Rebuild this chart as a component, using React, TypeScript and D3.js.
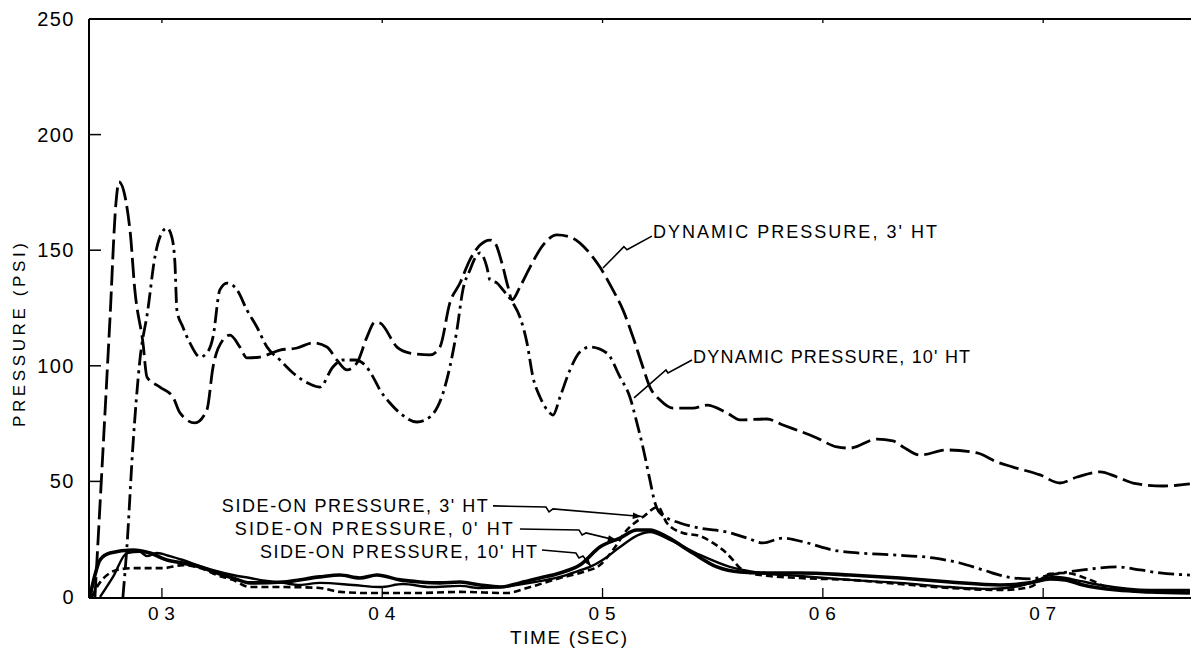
import React from "react";
import * as d3 from "d3";

type P = [number, number];

const yTickValues = [0, 50, 100, 150, 200, 250];
const yTickLabels = ["0", "50", "100", "150", "200", "250"];
const xTickValues = [0.3, 0.4, 0.5, 0.6, 0.7];
const xTickLabels = ["03", "04", "05", "06", "07"];

// [time (sec), pressure (psi)]
const dynamic3ft: P[] = [
  [0.2696, 0], [0.2764, 120], [0.2791, 170], [0.2805, 179.5], [0.2855, 158.7], [0.2877, 132.8],
  [0.2914, 109.9], [0.2932, 95.2], [0.2991, 90.8], [0.305, 86.5], [0.3082, 79.6], [0.315, 75.3],
  [0.3204, 80.9], [0.3232, 99.5], [0.3277, 111.2], [0.3309, 113.3], [0.3354, 108.1], [0.3386, 103.4],
  [0.3445, 103.8], [0.3536, 106.8], [0.3613, 107.7], [0.3685, 109.9], [0.3749, 108.1], [0.3794, 102.5],
  [0.384, 98.2], [0.3885, 101.2], [0.3931, 112.5], [0.3967, 118.9], [0.399, 118.5], [0.4067, 108.1],
  [0.4126, 105.5], [0.4217, 104.7], [0.4262, 108.1], [0.4307, 127.2], [0.4353, 135.8], [0.4398, 145.8],
  [0.4444, 152.2], [0.4489, 154.4], [0.4512, 153.1], [0.4543, 144.5], [0.4571, 134.1], [0.4589, 128.5],
  [0.4625, 134.1], [0.4671, 142.7], [0.473, 152.2], [0.4793, 156.6], [0.4852, 155.7], [0.4929, 150.1],
  [0.4988, 142.7], [0.5047, 132.8], [0.5093, 124.1], [0.5138, 112.5], [0.5183, 99.5], [0.5215, 90.8],
  [0.5261, 85.2], [0.532, 81.7], [0.541, 81.7], [0.5474, 83], [0.5565, 79.6], [0.5624, 76.6],
  [0.5746, 77], [0.5819, 74.4], [0.5973, 68.8], [0.6064, 64.9], [0.6123, 64.4], [0.6246, 68.3],
  [0.6318, 67.5], [0.6364, 64.9], [0.6441, 61.4], [0.6563, 63.6], [0.67, 62.3], [0.679, 58.4],
  [0.6863, 56.2], [0.6986, 52.8], [0.7076, 49.3], [0.7154, 51.9], [0.7258, 54.1], [0.7335, 51.9],
  [0.7408, 49.3], [0.7544, 48], [0.7666, 48.9],
];

const dynamic10ft: P[] = [
  [0.2823, 0], [0.2841, 21.6], [0.2868, 64.9], [0.29, 102.5], [0.2936, 124.1], [0.2968, 147],
  [0.2991, 155.7], [0.3023, 159.6], [0.3045, 155.7], [0.3059, 144.5], [0.3068, 124.1], [0.3095, 116.8],
  [0.3127, 109.9], [0.3173, 103.8], [0.3204, 105.5], [0.3232, 112.5], [0.3263, 132.8], [0.3295, 135.8],
  [0.3341, 132.8], [0.3386, 124.1], [0.3431, 116.8], [0.3477, 108.1], [0.3536, 102.5], [0.3595, 96.9],
  [0.3672, 92.1], [0.3717, 90.8], [0.3776, 99.5], [0.3822, 102.5], [0.3876, 102.5], [0.3922, 100.3],
  [0.3958, 95.2], [0.399, 89.5], [0.4035, 83.9], [0.408, 79.6], [0.4158, 75.7], [0.4217, 77.9],
  [0.4276, 88.2], [0.4307, 99.5], [0.4339, 115.5], [0.4366, 132.8], [0.4398, 141.4], [0.443, 147.9],
  [0.4444, 148.8], [0.4475, 142.7], [0.4489, 137.1], [0.4521, 135.8], [0.4548, 132.8], [0.4593, 127.2],
  [0.4625, 121.1], [0.4657, 109.9], [0.4684, 95.2], [0.4716, 86.5], [0.4761, 79.6], [0.4775, 78.7],
  [0.4807, 86.5], [0.4852, 98.2], [0.4897, 106], [0.4943, 108.1], [0.502, 105.5], [0.5079, 95.2],
  [0.5124, 86.5], [0.5156, 75.3], [0.5183, 64.9], [0.5215, 50.6], [0.5238, 40.7], [0.5261, 36.3],
  [0.5351, 32], [0.5442, 29.8], [0.5565, 28.1], [0.5656, 25.5], [0.5728, 23.4], [0.5819, 25.5],
  [0.5928, 23.4], [0.6046, 20.3], [0.6168, 19], [0.6318, 18.2], [0.65, 16.9], [0.6622, 14.7],
  [0.6727, 11.7], [0.6836, 8.7], [0.694, 7.8], [0.7031, 9.5], [0.7181, 11.7], [0.7335, 13],
  [0.744, 11.7], [0.753, 10.4], [0.7666, 9.5],
];

const sideOn0ft: P[] = [
  [0.2673, 0], [0.2696, 9.5], [0.2719, 16], [0.2764, 19], [0.2868, 20.3], [0.2946, 19], [0.3023, 16],
  [0.3095, 14.7], [0.3173, 13], [0.325, 10.4], [0.3322, 8.2], [0.34, 6.1], [0.3549, 6.5], [0.3717, 8.7],
  [0.3808, 9.5], [0.3899, 8.2], [0.3976, 9.5], [0.408, 7.4], [0.4171, 6.5], [0.4262, 6.1], [0.4353, 6.5],
  [0.4444, 5.2], [0.4534, 4.3], [0.4625, 6.1], [0.4716, 8.2], [0.4807, 10.4], [0.4897, 13.8],
  [0.4988, 21.6], [0.5079, 25.5], [0.5156, 29], [0.5215, 29], [0.5292, 26], [0.541, 19], [0.5519, 13],
  [0.5624, 10.8], [0.5746, 10.4], [0.5896, 10.4], [0.6123, 9.5], [0.635, 8.2], [0.6577, 6.5],
  [0.6804, 5.2], [0.694, 6.1], [0.7031, 7.8], [0.7099, 7.4], [0.7181, 5.2], [0.7335, 3], [0.7485, 2.2],
  [0.7666, 1.7],
];

const sideOn10ft: P[] = [
  [0.2719, 0], [0.2778, 8.7], [0.2841, 19], [0.29, 19.5], [0.2932, 17.7], [0.2977, 19], [0.3036, 17.7],
  [0.3095, 16], [0.3173, 13.4], [0.325, 11.2], [0.3322, 9.5], [0.34, 8.2], [0.3477, 6.9], [0.3549, 6.1],
  [0.3626, 5.2], [0.3717, 6.1], [0.3867, 5.2], [0.399, 4.3], [0.4094, 5.6], [0.4217, 4.3], [0.4353, 4.8],
  [0.4444, 3.9], [0.4534, 4.3], [0.4671, 6.1], [0.4807, 8.7], [0.4897, 11.5], [0.4943, 13], [0.5, 16],
  [0.5079, 21.6], [0.5161, 26.8], [0.5215, 28.1], [0.5306, 24.7], [0.5442, 18.2], [0.5578, 13],
  [0.5715, 10.4], [0.5896, 9.1], [0.6123, 7.4], [0.635, 6.1], [0.6577, 4.3], [0.6759, 3.5],
  [0.6895, 4.8], [0.7008, 8.2], [0.7063, 8.7], [0.7144, 7.4], [0.7258, 5.2], [0.7485, 3], [0.7666, 3],
];

const sideOn3ft: P[] = [
  [0.2682, 0], [0.2705, 4.3], [0.2764, 10.4], [0.2796, 11.7], [0.2868, 12.5], [0.3005, 12.5],
  [0.3095, 13.8], [0.3173, 12.5], [0.325, 9.5], [0.3322, 7.4], [0.34, 4.3], [0.3549, 4.3], [0.3717, 3.9],
  [0.3808, 2.2], [0.3944, 1.7], [0.4139, 1.7], [0.4353, 2.2], [0.4566, 1.7], [0.4657, 3.9], [0.4807, 8.2],
  [0.4911, 10.8], [0.4988, 13.8], [0.5047, 20.3], [0.5111, 29], [0.5183, 34.6], [0.5252, 38.9],
  [0.5292, 32], [0.5365, 27.7], [0.5442, 26.4], [0.5501, 23.4], [0.5547, 20.3], [0.5592, 16],
  [0.5624, 12.5], [0.5715, 9.5], [0.5896, 8.2], [0.6123, 7.4], [0.635, 5.6], [0.6577, 3.9], [0.6804, 3],
  [0.694, 4.3], [0.7031, 10], [0.7099, 10.4], [0.7213, 7.4], [0.7303, 3.9], [0.7485, 2.2], [0.7666, 2.2],
];

const labelTexts = [
  "DYNAMIC PRESSURE, 3' HT",
  "DYNAMIC PRESSURE, 10' HT",
  "SIDE-ON PRESSURE, 3' HT",
  "SIDE-ON PRESSURE, 0' HT",
  "SIDE-ON PRESSURE, 10' HT",
];

export default function App() {
  const W = 1191;
  const H = 653;
  const x = d3.scaleLinear().domain([0.2669, 0.7671]).range([89, 1191]);
  const y = d3.scaleLinear().domain([0, 250]).range([597, 19]);
  const line = d3
    .line<P>()
    .x((d) => x(d[0]))
    .y((d) => y(d[1]))
    .curve(d3.curveMonotoneX);
  const seg = d3
    .line<P>()
    .x((d) => x(d[0]))
    .y((d) => y(d[1]));

  // annotation layout in data coordinates
  const labels = [
    { at: [0.5229, 155.3] as P, len: 284, leader: [[0.5224, 156.1], [0.5111, 150.2], [0.5097, 151.5], [0.5002, 142.3]] as P[], arrow: false },
    { at: [0.5411, 101.2] as P, len: 277, leader: [[0.5406, 102.5], [0.5297, 96.9], [0.5288, 98.2], [0.5143, 86.1]] as P[], arrow: false },
    { at: [0.3272, 36.8] as P, len: 266, leader: [[0.4503, 39.4], [0.4743, 38.9], [0.4757, 36.8], [0.4775, 38.1], [0.5178, 34.8]] as P[], arrow: true },
    { at: [0.3331, 26.8] as P, len: 278, leader: [[0.4625, 29.4], [0.4893, 29.0], [0.4907, 26.8], [0.4925, 27.7], [0.5065, 24.5]] as P[], arrow: true },
    { at: [0.3445, 16.9] as P, len: 277, leader: [[0.4725, 20.3], [0.4879, 19.0], [0.4893, 16.9], [0.4911, 17.7], [0.4948, 13.2]] as P[], arrow: true },
  ];

  const arrowHead = (pts: P[]) => {
    const a = pts[pts.length - 2];
    const b = pts[pts.length - 1];
    const ax = x(a[0]), ay = y(a[1]), bx = x(b[0]), by = y(b[1]);
    const dx = bx - ax, dy = by - ay;
    const L = Math.hypot(dx, dy) || 1;
    const ux = dx / L, uy = dy / L;
    const len = 9, hw = 3.2;
    const cx = bx - ux * len, cy = by - uy * len;
    return `M${bx},${by}L${cx - uy * hw},${cy + ux * hw}L${cx + uy * hw},${cy - ux * hw}Z`;
  };

  const font = "'Liberation Sans', Arial, sans-serif";
  const x0 = x.range()[0];
  const x1 = x.range()[1];

  return (
    <>
      <style>{"body{margin:0;background:#fff}"}</style>
      <svg width={W} height={H} viewBox={`0 0 ${W} ${H}`} style={{ display: "block", background: "#fff" }}>
        {/* frame */}
        <line x1={x0} x2={x0} y1={y(250)} y2={y(0) + 1} stroke="#000" strokeWidth={2} />
        <line x1={x0} x2={x1} y1={y(250)} y2={y(250)} stroke="#000" strokeWidth={2} />
        <line x1={x0} x2={x1} y1={y(0) + 1} y2={y(0) + 1} stroke="#000" strokeWidth={2} />

        {/* y ticks */}
        {yTickValues.map((v, i) => (
          <g key={"y" + v}>
            {v > 0 && v < 250 && (
              <line x1={x0} x2={x0 + 12} y1={y(v)} y2={y(v)} stroke="#000" strokeWidth={1.5} />
            )}
            <text
              x={75}
              y={y(v) + 7}
              textAnchor="end"
              fontFamily={font}
              fontSize={20}
              letterSpacing={1.5}
              fill="#000"
            >
              {yTickLabels[i]}
            </text>
          </g>
        ))}

        {/* x ticks */}
        {xTickValues.map((v, i) => (
          <g key={"x" + v}>
            <line x1={x(v)} x2={x(v)} y1={y(0)} y2={y(0) - 9} stroke="#000" strokeWidth={1.3} />
            <line x1={x(v)} x2={x(v)} y1={y(250)} y2={y(250) + 4} stroke="#000" strokeWidth={1.3} />
            <text
              x={x(v) - 14}
              y={620}
              fontFamily={font}
              fontSize={19}
              textLength={27}
              lengthAdjust="spacing"
              fill="#000"
            >
              {xTickLabels[i]}
            </text>
          </g>
        ))}

        {/* axis titles */}
        <text x={510} y={644} fontFamily={font} fontSize={19} textLength={117} lengthAdjust="spacing" fill="#000">
          TIME (SEC)
        </text>
        <text
          transform="translate(25,427) rotate(-90)"
          fontFamily={font}
          fontSize={17}
          textLength={184}
          lengthAdjust="spacing"
          fill="#000"
        >
          PRESSURE (PSI)
        </text>

        {/* side-on curves */}
        <path d={line(sideOn10ft) || ""} fill="none" stroke="#000" strokeWidth={2.4} strokeLinejoin="round" />
        <path d={line(sideOn0ft) || ""} fill="none" stroke="#000" strokeWidth={3.6} strokeLinejoin="round" />
        <path d={line(sideOn3ft) || ""} fill="none" stroke="#000" strokeWidth={2.6} strokeDasharray="7,4" />

        {/* dynamic curves */}
        <path d={line(dynamic10ft) || ""} fill="none" stroke="#000" strokeWidth={2.8} strokeDasharray="16,5,3,5" />
        <path d={line(dynamic3ft) || ""} fill="none" stroke="#000" strokeWidth={2.8} strokeDasharray="20,6" />

        {/* annotations */}
        {labels.map((l, i) => (
          <g key={"l" + i}>
            <path d={seg(l.leader) || ""} fill="none" stroke="#000" strokeWidth={1.6} />
            {l.arrow && <path d={arrowHead(l.leader)} fill="#000" />}
            <text
              x={x(l.at[0])}
              y={y(l.at[1])}
              fontFamily={font}
              fontSize={18}
              textLength={l.len}
              lengthAdjust="spacing"
              fill="#000"
            >
              {labelTexts[i]}
            </text>
          </g>
        ))}
      </svg>
    </>
  );
}
